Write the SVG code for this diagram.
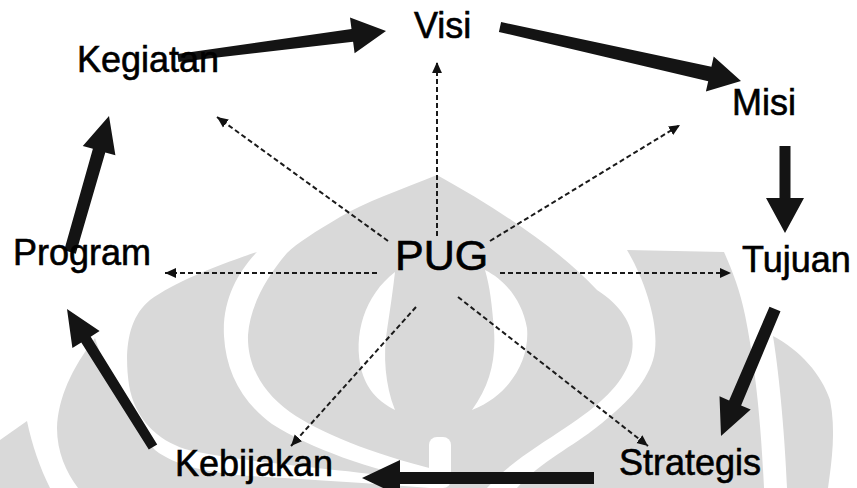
<svg xmlns="http://www.w3.org/2000/svg" width="857" height="488" viewBox="0 0 857 488">
<style>
.wm{fill:#d9d9d9;stroke:none}
.wh{fill:#ffffff;stroke:none}
.thick{fill:#141414;stroke:none}
.dash{fill:none;stroke:#1a1a1a;stroke-width:2;stroke-dasharray:5 3}
.lbl{font-family:"Liberation Sans",Arial,sans-serif;font-size:36px;fill:#000;stroke:#000;stroke-width:0.6}
.pug{font-family:"Liberation Sans",Arial,sans-serif;font-size:43px;fill:#000;stroke:#000;stroke-width:0.7}
</style>
<defs>
<marker id="ah" viewBox="0 0 10 10" refX="10" refY="5" markerWidth="11" markerHeight="11" markerUnits="userSpaceOnUse" orient="auto">
<path d="M0,0.5 L10,5 L0,9.5 z" fill="#111"/>
</marker>
</defs>
<rect x="0" y="0" width="857" height="488" fill="#ffffff"/>
<g id="watermark">
<path class="wm" d="M0,440 L27,421 C32,445 40,468 50,488 L0,488 Z"/>
<path class="wm" d="M95,338 C72,368 58,398 57,428 C57,452 66,472 78,488 L430,488 C380,484 300,479 250,476 C210,473 175,466 155,450 C138,432 122,405 110,380 C104,365 99,350 95,338 Z"/>
<path class="wm" d="M257,252 C215,266 175,282 150,300 C128,318 124,350 129,385 C135,420 158,440 185,449 C230,461 330,468 430,481 C370,470 310,448 272,424 C242,402 226,372 224,336 C222,300 238,272 257,252 Z"/>
<path class="wm" d="M437,175 C400,190 365,202 340,217 C315,232 297,243 287,253 C268,275 250,305 248,335 C247,365 262,392 290,412 C320,433 370,453 437,470 L440,488 L487,488 C510,462 540,445 565,428 C600,405 622,385 630,360 C638,335 628,310 597,290 C560,250 500,210 437,175 Z"/>
<path class="wm" d="M627,250 L724,252 C732,270 740,290 745,315 C752,350 760,400 764,488 L517,488 C540,462 575,445 597,427 C625,405 645,385 653,360 C662,330 645,280 627,250 Z"/>
<path class="wm" d="M773,336 C800,350 822,375 830,400 C836,430 832,460 828,488 L787,488 C785,440 780,380 773,336 Z"/>
<path class="wh" d="M395,272 C365,295 352,335 362,372 C368,392 380,402 395,410 C385,385 383,355 387,330 C390,310 393,290 395,272 Z"/>
<path class="wh" d="M485,270 C505,280 522,300 527,328 C530,360 510,395 472,410 C490,385 496,360 494,330 C492,305 490,287 485,270 Z"/>
<rect class="wh" x="429" y="437" width="22" height="51" rx="8"/>
</g>
<g id="connectors">
<polygon class="thick" points="177.5,54 351.5,29 350,17.5 386,31 354.6,53.3 353.1,41.8 178.5,62"/>
<polygon class="thick" points="501.1,22.1 711.4,66.7 713.7,56.4 741,81 705.9,91.6 708.2,81.3 498.9,31.9"/>
<polygon class="thick" points="779.5,146 790.5,146 790.5,198 804,198 785,233 766,198 779.5,198"/>
<polygon class="thick" points="780.5,311.3 741.1,405.4 750.7,409.6 721,436 719.5,396.2 729.1,400.4 769.5,306.7"/>
<polygon class="thick" points="594,472 400,472 400,460 362,478 400,496 400,484 594,484"/>
<polygon class="thick" points="157.2,444.4 90.7,336.7 99.6,331.1 67,309 72.4,348.1 81.3,342.5 148.8,449.6"/>
<polygon class="thick" points="75.8,253.7 105.3,152.4 115.4,155.3 109,116 82.8,145.9 92.9,148.8 64.2,250.3"/>
<line class="dash" x1="437" y1="236" x2="437" y2="62" marker-end="url(#ah)"/>
<line class="dash" x1="388" y1="241" x2="217" y2="117" marker-end="url(#ah)"/>
<line class="dash" x1="490" y1="241" x2="680" y2="125" marker-end="url(#ah)"/>
<line class="dash" x1="377" y1="273" x2="165" y2="273" marker-end="url(#ah)"/>
<line class="dash" x1="500" y1="273" x2="731" y2="273" marker-end="url(#ah)"/>
<line class="dash" x1="416" y1="307" x2="291" y2="446" marker-end="url(#ah)"/>
<line class="dash" x1="458" y1="297" x2="648" y2="446" marker-end="url(#ah)"/>
</g>
<g id="node-visi"><text class="lbl" x="414" y="38">Visi</text></g>
<g id="node-misi"><text class="lbl" x="732" y="115">Misi</text></g>
<g id="node-tujuan"><text class="lbl" x="742" y="272">Tujuan</text></g>
<g id="node-strategis"><text class="lbl" x="619" y="475">Strategis</text></g>
<g id="node-kebijakan"><text class="lbl" x="175" y="476">Kebijakan</text></g>
<g id="node-program"><text class="lbl" x="13" y="265">Program</text></g>
<g id="node-kegiatan"><text class="lbl" x="77" y="72">Kegiatan</text></g>
<g id="node-pug"><text class="pug" x="395" y="270">PUG</text></g>
</svg>
